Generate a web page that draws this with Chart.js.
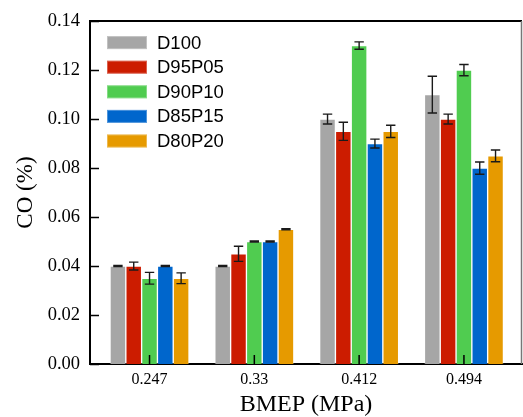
<!DOCTYPE html>
<html>
<head>
<meta charset="utf-8">
<script src="https://cdn.jsdelivr.net/npm/chart.js@4.4.1/dist/chart.umd.min.js"></script>
<style>
  html, body { margin: 0; padding: 0; background: #fff; }
  #wrap { width: 523px; height: 417px; }
</style>
</head>
<body>
<div id="wrap"><canvas id="co-chart"></canvas></div>
<script>
// data
const categorias = ["0.247", "0.33", "0.412", "0.494"];
const series = ["D100", "D95P05", "D90P10", "D85P15", "D80P20"];
const cores = ["#a6a6a6", "#cc1c00", "#50cc50", "#0066cc", "#e69a00"];

const d100 = [0.040, 0.040, 0.100, 0.110];
const d95p05 = [0.040, 0.045, 0.095, 0.100];
const d90p10 = [0.035, 0.050, 0.130, 0.120];
const d85p15 = [0.040, 0.050, 0.090, 0.080];
const d80p20 = [0.035, 0.055, 0.095, 0.085];

const errD100 = [0.0002, 0.0002, 0.0020, 0.0075];
const errD95p05 = [0.0016, 0.0031, 0.0037, 0.0020];
const errD90p10 = [0.0024, 0.0002, 0.0015, 0.0023];
const errD85p15 = [0.0002, 0.0002, 0.0018, 0.0025];
const errD80p20 = [0.0022, 0.0002, 0.0025, 0.0024];

const yTicks = [0, 0.02, 0.04, 0.06, 0.08, 0.10, 0.12, 0.14];

const valores = [d100, d95p05, d90p10, d85p15, d80p20];
const erros = [errD100, errD95p05, errD90p10, errD85p15, errD80p20];

const serif = "'Liberation Serif', 'Times New Roman', serif";
const sans = "'Liberation Sans', Arial, sans-serif";

const datasets = series.map((nome, i) => ({
  label: nome,
  data: valores[i].map((v, j) => ({ x: j, y: v })),
  err: erros[i],
  backgroundColor: cores[i],
  borderColor: "rgba(255,255,255,0.22)",
  borderWidth: 1,
  barThickness: 15.8,
}));

// error bars, drawn from the y scale
const errorBars = {
  id: "errorBars",
  afterDatasetsDraw(chart) {
    const ctx = chart.ctx;
    const yScale = chart.scales.y;
    ctx.save();
    ctx.strokeStyle = "#1a1a1a";
    ctx.lineWidth = 1.4;
    chart.data.datasets.forEach((ds, i) => {
      const meta = chart.getDatasetMeta(i);
      meta.data.forEach((bar, j) => {
        const v = ds.data[j].y;
        const e = ds.err[j];
        const top = yScale.getPixelForValue(v + e);
        const bot = yScale.getPixelForValue(v - e);
        const x = bar.x;
        ctx.beginPath();
        ctx.moveTo(x, top);
        ctx.lineTo(x, bot);
        ctx.moveTo(x - 4.7, top);
        ctx.lineTo(x + 4.7, top);
        ctx.moveTo(x - 4.7, bot);
        ctx.lineTo(x + 4.7, bot);
        ctx.stroke();
      });
    });
    ctx.restore();
  },
};

// frame, inward ticks and legend box
const moldura = {
  id: "moldura",
  afterDraw(chart) {
    const ctx = chart.ctx;
    const a = chart.chartArea;
    const xs = chart.scales.x;
    const ys = chart.scales.y;
    ctx.save();

    ctx.strokeStyle = "#000";
    ctx.lineWidth = 1.5;
    ctx.beginPath();
    yTicks.forEach((t) => {
      const py = Math.round(ys.getPixelForValue(t)) + 0.5;
      ctx.moveTo(a.left, py);
      ctx.lineTo(a.left + 9, py);
    });
    categorias.forEach((c, i) => {
      const px = xs.getPixelForValue(i);
      ctx.moveTo(px, a.bottom);
      ctx.lineTo(px, a.bottom - 9);
    });
    ctx.stroke();

    ctx.lineWidth = 2;
    ctx.beginPath();
    ctx.moveTo(a.left, a.top);
    ctx.lineTo(a.right, a.top);
    ctx.stroke();
    ctx.strokeStyle = "#777";
    ctx.lineWidth = 1.5;
    ctx.beginPath();
    ctx.moveTo(a.right - 0.5, a.top);
    ctx.lineTo(a.right - 0.5, a.bottom);
    ctx.stroke();

    ctx.font = "18.5px " + sans;
    ctx.textBaseline = "middle";
    chart.data.datasets.forEach((ds, i) => {
      const cy = a.top + 21.5 + i * 24.6;
      ctx.fillStyle = ds.backgroundColor;
      ctx.fillRect(a.left + 17, cy - 6.5, 40, 13);
      ctx.strokeStyle = "rgba(255,255,255,0.3)";
      ctx.lineWidth = 1;
      ctx.strokeRect(a.left + 17.5, cy - 6, 39, 12);
      ctx.fillStyle = "#000";
      ctx.fillText(ds.label, a.left + 67, cy + 1);
    });
    ctx.restore();
  },
};

const ctx = document.getElementById("co-chart").getContext("2d");
const grafico = new Chart(ctx, {
  type: "bar",
  data: { datasets: datasets },
  plugins: [errorBars, moldura],
  options: {
    responsive: true,
    maintainAspectRatio: false,
    animation: false,
    layout: { padding: { top: 15, right: 1, left: 0, bottom: 0 } },
    plugins: {
      legend: { display: false },
      tooltip: { enabled: false },
    },
    scales: {
      x: {
        type: "linear",
        min: -0.568,
        max: 3.554,
        offset: false,
        grid: { display: false, offset: false, drawTicks: false },
        border: { color: "#000", width: 2 },
        ticks: {
          stepSize: 1,
          includeBounds: false,
          padding: 6,
          color: "#000",
          font: { family: serif, size: 16 },
          callback: (v) => (Number.isInteger(v) ? categorias[v] : ""),
        },
        title: {
          display: true,
          text: "BMEP (MPa)",
          color: "#000",
          font: { family: serif, size: 24, lineHeight: 1 },
          padding: { top: 0, bottom: 0 },
        },
        afterFit: (scale) => {
          scale.height = 53;
        },
      },
      y: {
        min: 0,
        max: 0.14,
        grid: { display: false, drawTicks: false },
        border: { color: "#000", width: 2 },
        ticks: {
          stepSize: 0.02,
          padding: 10,
          color: "#000",
          font: { family: serif, size: 18.5 },
          callback: (v) => v.toFixed(2),
        },
        title: {
          display: true,
          text: "CO (%)",
          color: "#000",
          font: { family: serif, size: 23 },
          padding: { top: 12, bottom: 0 },
        },
        afterFit: (scale) => {
          scale.width = 90;
        },
      },
    },
  },
});
</script>
</body>
</html>
